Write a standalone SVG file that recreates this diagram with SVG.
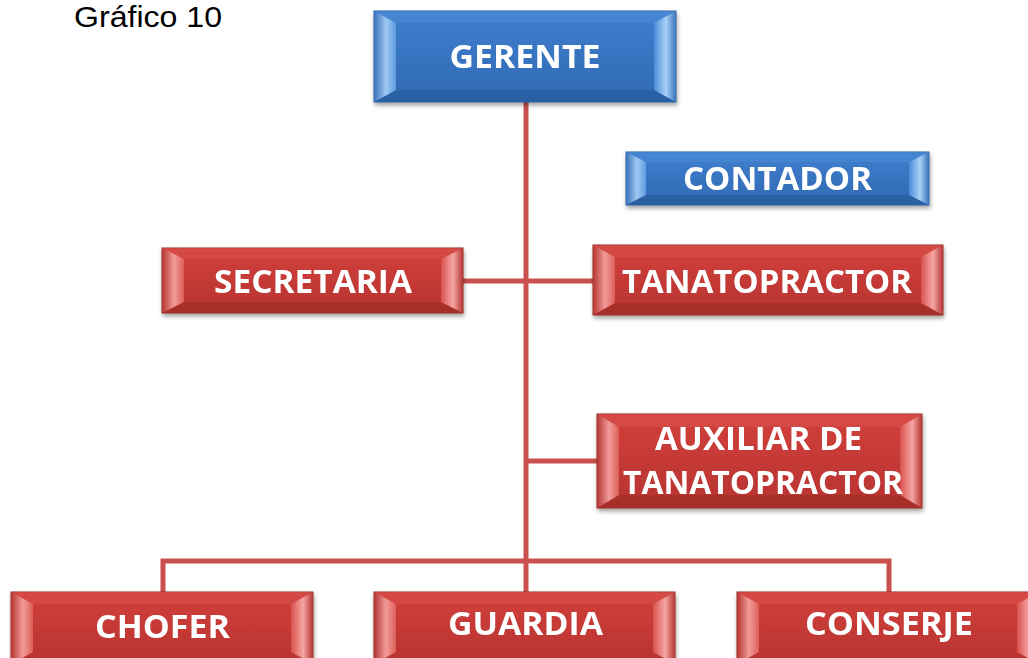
<svg xmlns="http://www.w3.org/2000/svg" width="1028" height="658" viewBox="0 0 1028 658">
<defs>
<style>
.lbl{font-family:"Open Sans","Liberation Sans",sans-serif;font-weight:bold;font-size:33px;fill:#ffffff;text-anchor:middle}
.title{font-family:"Liberation Sans",Arial,sans-serif;font-size:30px;fill:#000000}
.conn{stroke:#c9504d;stroke-width:5;fill:none}
.bb{fill:url(#gBlue);stroke:#2c5f9e;stroke-width:1}
.rb{fill:url(#gRed);stroke:#8e2a27;stroke-width:1}
.bt{fill:#4a8ad6;opacity:.6}
.bbot{fill:#2a5c9c;opacity:.7}
.rt{fill:#d9504c;opacity:.6}
.rbot{fill:#a12d2a;opacity:.7}
</style>
<linearGradient id="gBlue" x1="0" y1="0" x2="0" y2="1"><stop offset="0" stop-color="#3f7fcf"/><stop offset="1" stop-color="#3169b2"/></linearGradient>
<linearGradient id="gRed" x1="0" y1="0" x2="0" y2="1"><stop offset="0" stop-color="#d23f3b"/><stop offset="1" stop-color="#b73431"/></linearGradient>
<linearGradient id="bL" x1="0" y1="0" x2="1" y2="0"><stop offset="0" stop-color="#3b72bb"/><stop offset="0.55" stop-color="#9ec8f2"/><stop offset="1" stop-color="#5d9be0"/></linearGradient>
<linearGradient id="bR" x1="1" y1="0" x2="0" y2="0"><stop offset="0" stop-color="#3b72bb"/><stop offset="0.45" stop-color="#a8d1f6"/><stop offset="1" stop-color="#4c8bd8"/></linearGradient>
<linearGradient id="rL" x1="0" y1="0" x2="1" y2="0"><stop offset="0" stop-color="#b53532"/><stop offset="0.55" stop-color="#f19c99"/><stop offset="1" stop-color="#dc5e5a"/></linearGradient>
<linearGradient id="rR" x1="1" y1="0" x2="0" y2="0"><stop offset="0" stop-color="#b53532"/><stop offset="0.45" stop-color="#f4a6a3"/><stop offset="1" stop-color="#d9524e"/></linearGradient>
<filter id="sh" x="-5%" y="-10%" width="112%" height="130%"><feDropShadow dx="1" dy="3" stdDeviation="2" flood-color="#000" flood-opacity="0.35"/></filter>
</defs>
<rect width="1028" height="658" fill="#ffffff"/>
<text class="title" x="74" y="27" textLength="148" lengthAdjust="spacingAndGlyphs">Gráfico 10</text>

<g id="connectors">
<line class="conn" x1="526" y1="100" x2="526" y2="594"/>
<line class="conn" x1="462" y1="281" x2="594" y2="281"/>
<line class="conn" x1="526" y1="461" x2="598" y2="461"/>
<polyline class="conn" points="163,594 163,561 889,561 889,594"/>
</g>

<g id="gerente" filter="url(#sh)">
<rect class="bb" x="374" y="11" width="302" height="91"/>
<polygon class="bt" points="374,11 676,11 654,23 396,23"/>
<polygon class="bbot" points="374,102 676,102 654,90 396,90"/>
<polygon fill="url(#bL)" points="374,11 396,23 396,90 374,102"/>
<polygon fill="url(#bR)" points="676,11 654,23 654,90 676,102"/>
<text class="lbl" x="525" y="68" textLength="151" lengthAdjust="spacingAndGlyphs">GERENTE</text>
</g>

<g id="contador" filter="url(#sh)">
<rect class="bb" x="626" y="152" width="303" height="53"/>
<polygon class="bt" points="626,152 929,152 909,162 646,162"/>
<polygon class="bbot" points="626,205 929,205 909,195 646,195"/>
<polygon fill="url(#bL)" points="626,152 646,162 646,195 626,205"/>
<polygon fill="url(#bR)" points="929,152 909,162 909,195 929,205"/>
<text class="lbl" x="777.5" y="190" textLength="189" lengthAdjust="spacingAndGlyphs">CONTADOR</text>
</g>

<g id="secretaria" filter="url(#sh)">
<rect class="rb" x="162" y="248" width="301" height="65"/>
<polygon class="rt" points="162,248 463,248 441,259 184,259"/>
<polygon class="rbot" points="162,313 463,313 441,302 184,302"/>
<polygon fill="url(#rL)" points="162,248 184,259 184,302 162,313"/>
<polygon fill="url(#rR)" points="463,248 441,259 441,302 463,313"/>
<text class="lbl" x="313" y="293" textLength="198" lengthAdjust="spacingAndGlyphs">SECRETARIA</text>
</g>

<g id="tanatopractor" filter="url(#sh)">
<rect class="rb" x="593" y="245" width="350" height="70"/>
<polygon class="rt" points="593,245 943,245 921,257 615,257"/>
<polygon class="rbot" points="593,315 943,315 921,303 615,303"/>
<polygon fill="url(#rL)" points="593,245 615,257 615,303 593,315"/>
<polygon fill="url(#rR)" points="943,245 921,257 921,303 943,315"/>
<text class="lbl" x="767" y="293" textLength="290" lengthAdjust="spacingAndGlyphs">TANATOPRACTOR</text>
</g>

<g id="auxiliar" filter="url(#sh)">
<rect class="rb" x="597" y="414" width="325" height="94"/>
<polygon class="rt" points="597,414 922,414 900,427 619,427"/>
<polygon class="rbot" points="597,508 922,508 900,495 619,495"/>
<polygon fill="url(#rL)" points="597,414 619,427 619,495 597,508"/>
<polygon fill="url(#rR)" points="922,414 900,427 900,495 922,508"/>
<text class="lbl" x="758.5" y="450" textLength="207" lengthAdjust="spacingAndGlyphs">AUXILIAR DE</text>
<text class="lbl" x="763" y="494" textLength="280" lengthAdjust="spacingAndGlyphs">TANATOPRACTOR</text>
</g>

<g id="chofer" filter="url(#sh)">
<rect class="rb" x="11" y="592" width="302" height="72"/>
<polygon class="rt" points="11,592 313,592 291,604 33,604"/>
<polygon fill="url(#rL)" points="11,592 33,604 33,652 11,664"/>
<polygon fill="url(#rR)" points="313,592 291,604 291,652 313,664"/>
<text class="lbl" x="162.5" y="638" textLength="135" lengthAdjust="spacingAndGlyphs">CHOFER</text>
</g>

<g id="guardia" filter="url(#sh)">
<rect class="rb" x="374" y="592" width="301" height="72"/>
<polygon class="rt" points="374,592 675,592 653,604 396,604"/>
<polygon fill="url(#rL)" points="374,592 396,604 396,652 374,664"/>
<polygon fill="url(#rR)" points="675,592 653,604 653,652 675,664"/>
<text class="lbl" x="525.5" y="635" textLength="155" lengthAdjust="spacingAndGlyphs">GUARDIA</text>
</g>

<g id="conserje" filter="url(#sh)">
<rect class="rb" x="737" y="592" width="302" height="72"/>
<polygon class="rt" points="737,592 1039,592 1017,604 759,604"/>
<polygon fill="url(#rL)" points="737,592 759,604 759,652 737,664"/>
<polygon fill="url(#rR)" points="1039,592 1017,604 1017,652 1039,664"/>
<text class="lbl" x="889" y="635" textLength="168" lengthAdjust="spacingAndGlyphs">CONSERJE</text>
</g>
</svg>
